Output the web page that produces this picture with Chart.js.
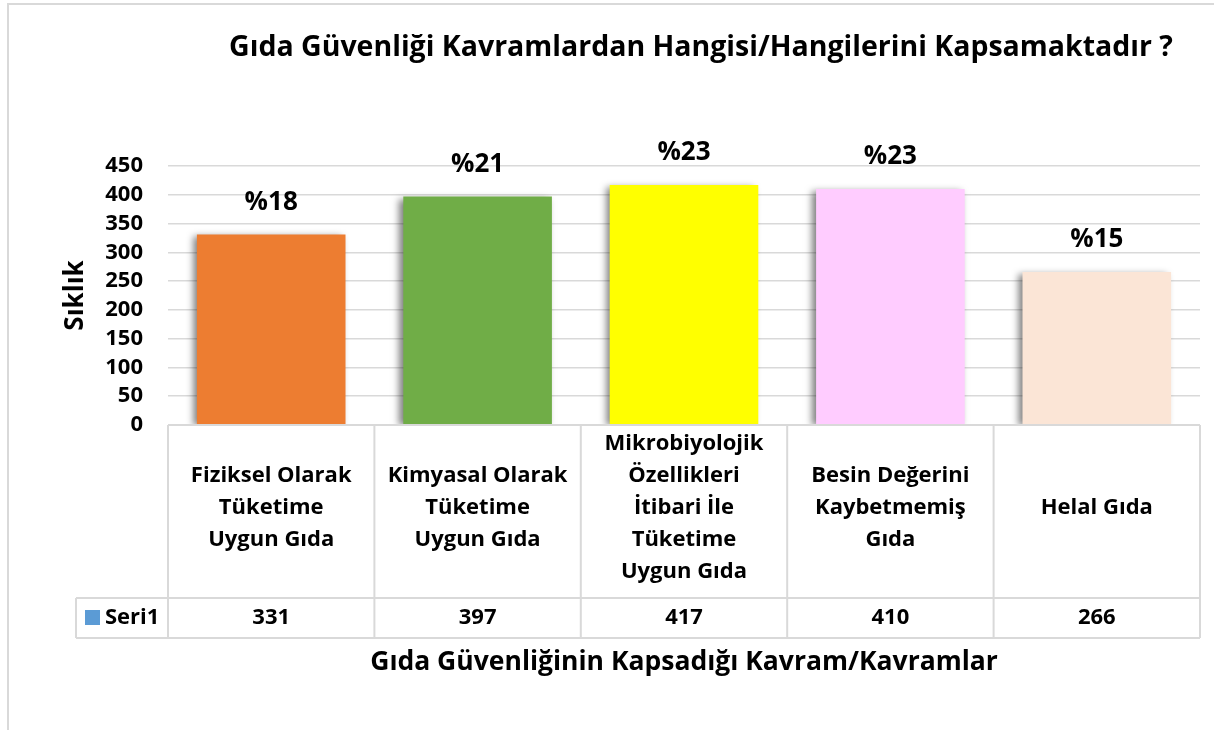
<!DOCTYPE html>
<html>
<head>
<meta charset="utf-8">
<script src="https://cdn.jsdelivr.net/npm/chart.js@4.4.1/dist/chart.umd.min.js"></script>
<style>
  html, body { margin: 0; padding: 0; background: #fff; }
</style>
</head>
<body>
<canvas id="chart" width="1214" height="730"></canvas>
<script>
// data
const categories = [
  ['Fiziksel Olarak', 'Tüketime', 'Uygun Gıda'],
  ['Kimyasal Olarak', 'Tüketime', 'Uygun Gıda'],
  ['Mikrobiyolojik', 'Özellikleri', 'İtibari İle', 'Tüketime', 'Uygun Gıda'],
  ['Besin Değerini', 'Kaybetmemiş', 'Gıda'],
  ['Helal Gıda']
];
const seriesName = 'Seri1';
const frequencies = [331, 397, 417, 410, 266];
const percentLabels = ['%18', '%21', '%23', '%23', '%15'];
const barColors = ['#ED7D31', '#70AD47', '#FFFF00', '#FFCCFF', '#FBE5D6'];
const yMin = 0, yMax = 450, yStep = 50;

const chartTitle = 'Gıda Güvenliği Kavramlardan Hangisi/Hangilerini Kapsamaktadır ?';
const xTitle = 'Gıda Güvenliğinin Kapsadığı Kavram/Kavramlar';
const yTitle = 'Sıklık';

const FONT = '"Open Sans", sans-serif';
const GRID = '#d9d9d9';

// Excel style soft shadow on the bars
const barShadow = {
  id: 'barShadow',
  beforeDatasetsDraw(chart) {
    const ctx = chart.ctx;
    ctx.save();
    ctx.shadowColor = 'rgba(0,0,0,0.5)';
    ctx.shadowBlur = 7;
    ctx.shadowOffsetX = -4;
    ctx.shadowOffsetY = 2;
  },
  afterDatasetsDraw(chart) {
    chart.ctx.restore();
  }
};

// frame, title, data labels and the data table under the plot
const extras = {
  id: 'extras',
  beforeDraw(chart) {
    const ctx = chart.ctx;
    ctx.save();
    ctx.strokeStyle = GRID;
    ctx.lineWidth = 2;
    ctx.beginPath();
    ctx.moveTo(8, 730); ctx.lineTo(8, 4); ctx.lineTo(1214, 4);
    ctx.stroke();
    ctx.restore();
  },
  afterDraw(chart) {
    const {ctx, chartArea} = chart;
    const x = chart.scales.x;
    const meta = chart.getDatasetMeta(0);
    ctx.save();
    ctx.fillStyle = '#000';
    ctx.textAlign = 'center';
    ctx.textBaseline = 'middle';

    // chart title
    ctx.font = 'bold 28.5px ' + FONT;
    ctx.fillText(chartTitle, 701, 48);

    // percentage labels above bars
    ctx.font = 'bold 26px ' + FONT;
    meta.data.forEach((bar, i) => {
      ctx.fillText(percentLabels[i], bar.x, bar.y - 32);
    });

    // data table
    const top = chartArea.bottom;
    const headBottom = top + 173;
    const rowBottom = headBottom + 40;
    const legendLeft = 76;
    const half = (x.getPixelForValue(1) - x.getPixelForValue(0)) / 2;

    ctx.strokeStyle = GRID;
    ctx.lineWidth = 2;
    ctx.beginPath();
    ctx.moveTo(chartArea.left, top); ctx.lineTo(chartArea.right, top);
    ctx.moveTo(legendLeft, headBottom); ctx.lineTo(chartArea.right, headBottom);
    ctx.moveTo(legendLeft, rowBottom); ctx.lineTo(chartArea.right, rowBottom);
    ctx.moveTo(legendLeft, headBottom); ctx.lineTo(legendLeft, rowBottom);
    for (let i = 0; i <= categories.length; i++) {
      const xx = x.getPixelForValue(i) - half;
      ctx.moveTo(xx, top); ctx.lineTo(xx, rowBottom);
    }
    ctx.stroke();

    const lineH = 32;
    const headMid = top + 83;
    const rowMid = (headBottom + rowBottom) / 2;
    ctx.font = 'bold 22px ' + FONT;
    categories.forEach((lines, i) => {
      const cx = x.getPixelForValue(i);
      lines.forEach((t, j) => {
        ctx.fillText(t, cx, headMid + (j - (lines.length - 1) / 2) * lineH);
      });
      ctx.fillText(String(frequencies[i]), cx, rowMid);
    });

    // legend key in the series row
    ctx.fillStyle = '#5B9BD5';
    ctx.fillRect(85, rowMid - 8, 15, 15);
    ctx.fillStyle = '#000';
    ctx.textAlign = 'left';
    ctx.fillText(seriesName, 105, rowMid);
    ctx.restore();
  }
};

new Chart(document.getElementById('chart'), {
  type: 'bar',
  data: {
    labels: categories,
    datasets: [{
      label: seriesName,
      data: frequencies,
      backgroundColor: barColors,
      borderWidth: 0,
      barPercentage: 0.72,
      categoryPercentage: 1
    }]
  },
  options: {
    responsive: false,
    animation: false,
    devicePixelRatio: 1,
    layout: { padding: { left: 60, right: 14, top: 166, bottom: 52 } },
    plugins: {
      legend: { display: false },
      tooltip: { enabled: false },
      title: { display: false }
    },
    scales: {
      x: {
        ticks: { display: false },
        grid: { display: false },
        border: { display: false },
        title: {
          display: true,
          text: xTitle,
          color: '#000',
          font: { family: FONT, size: 26.5, weight: 'bold' },
          padding: 0
        },
        afterFit(scale) { scale.height = 253; }
      },
      y: {
        min: yMin,
        max: yMax,
        ticks: {
          stepSize: yStep,
          autoSkip: false,
          maxTicksLimit: 20,
          color: '#000',
          padding: 25,
          font: { family: FONT, size: 22, weight: 'bold', lineHeight: 1 }
        },
        grid: { color: GRID, lineWidth: 1.5, drawTicks: false },
        border: { display: false },
        title: {
          display: true,
          text: yTitle,
          color: '#000',
          font: { family: FONT, size: 26, weight: 'bold' },
          padding: 0
        },
        afterFit(scale) { scale.width = 108; }
      }
    }
  },
  plugins: [barShadow, extras]
});
</script>
</body>
</html>
